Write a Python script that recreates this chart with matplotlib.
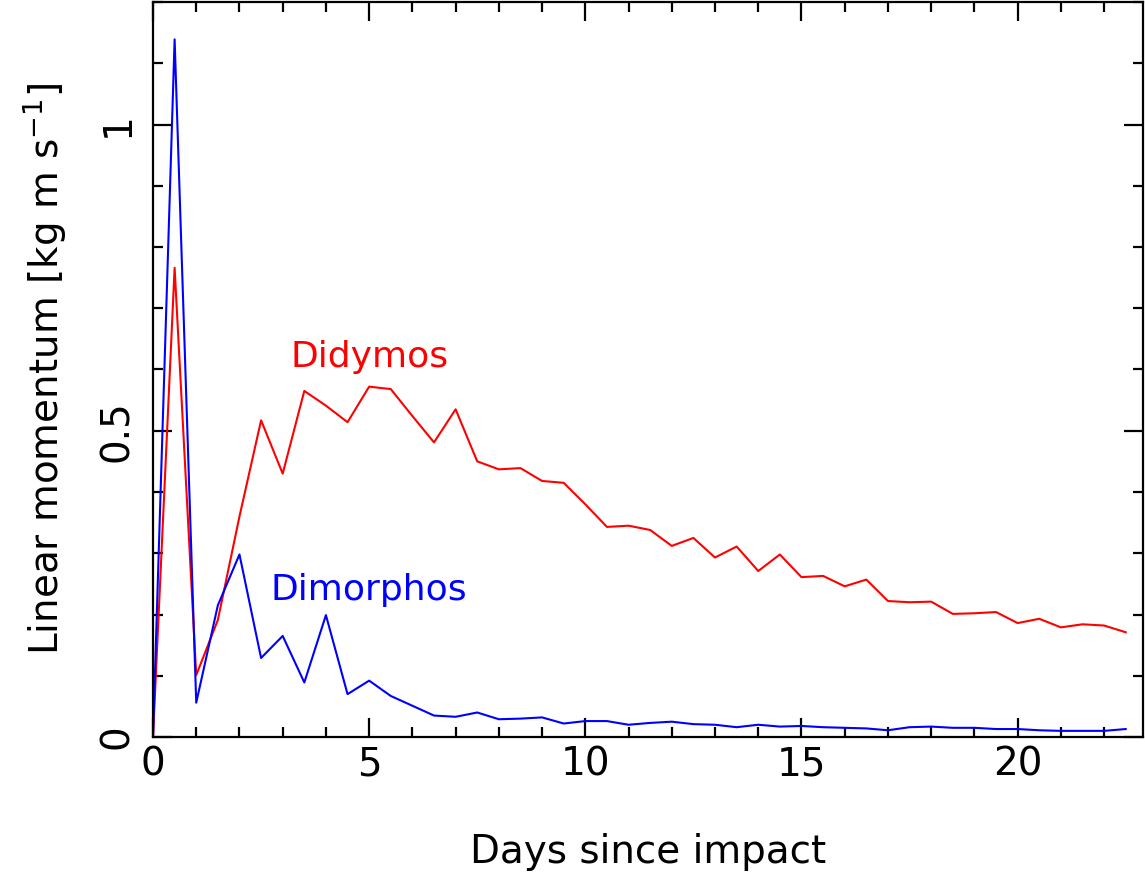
import numpy as np
import matplotlib
matplotlib.use('Agg')
import matplotlib.pyplot as plt
from matplotlib.ticker import MultipleLocator, FuncFormatter

# days since impact, sampled every half day
days = np.arange(0, 23, 0.5)

didymos = [0.0, 0.766, 0.101, 0.191, 0.360, 0.517, 0.430, 0.565, 0.541, 0.514,
           0.572, 0.568, 0.524, 0.481, 0.535, 0.450, 0.437, 0.439, 0.418, 0.415,
           0.380, 0.343, 0.345, 0.338, 0.312, 0.325, 0.293, 0.311, 0.271, 0.298,
           0.261, 0.263, 0.246, 0.257, 0.222, 0.220, 0.221, 0.201, 0.202, 0.204,
           0.186, 0.193, 0.179, 0.184, 0.182, 0.171]

dimorphos = [0.0, 1.139, 0.056, 0.215, 0.298, 0.129, 0.165, 0.089, 0.199, 0.070,
             0.092, 0.067, 0.051, 0.035, 0.033, 0.040, 0.029, 0.030, 0.032, 0.022,
             0.026, 0.026, 0.020, 0.023, 0.025, 0.021, 0.020, 0.016, 0.020, 0.017,
             0.018, 0.016, 0.015, 0.014, 0.011, 0.016, 0.017, 0.015, 0.015, 0.013,
             0.013, 0.011, 0.010, 0.010, 0.010, 0.013]

plt.rcParams['font.family'] = ['DejaVu Sans']

fig = plt.figure(figsize=(11.45, 8.75), dpi=100)
ax = fig.add_axes([153/1145, 1 - 737/875, (1143 - 153)/1145, (737 - 2)/875])

ax.plot(days, didymos, color='red', lw=1.5)
ax.plot(days, dimorphos, color='blue', lw=1.5)

ax.text(5.0, 0.62, 'Didymos', color='red', fontsize=26, ha='center', va='center')
ax.text(5.0, 0.24, 'Dimorphos', color='blue', fontsize=26, ha='center', va='center')

ax.set_xlim(0, 22.9)
ax.set_ylim(0, 1.2)

ax.xaxis.set_major_locator(MultipleLocator(5))
ax.xaxis.set_minor_locator(MultipleLocator(1))
ax.yaxis.set_major_locator(MultipleLocator(0.5))
ax.yaxis.set_minor_locator(MultipleLocator(0.1))
fmt = FuncFormatter(lambda v, p: '%g' % v)
ax.xaxis.set_major_formatter(fmt)
ax.yaxis.set_major_formatter(fmt)

ax.tick_params(which='both', direction='in', top=True, right=True, width=1.6,
               labelsize=28)
ax.tick_params(which='major', length=14)
ax.tick_params(axis='x', which='major', pad=6)
ax.tick_params(axis='y', which='major', pad=12)
ax.tick_params(which='minor', length=7.5)
for lab in ax.get_yticklabels():
    lab.set_rotation(90)
    lab.set_va('center')

for sp in ax.spines.values():
    sp.set_linewidth(1.6)

ax.set_xlabel('Days since impact', fontsize=28, labelpad=36)
ax.set_ylabel(r'Linear momentum [kg m s$^{-1}$]', fontsize=28, labelpad=22)

fig.savefig('out.png', dpi=100)
